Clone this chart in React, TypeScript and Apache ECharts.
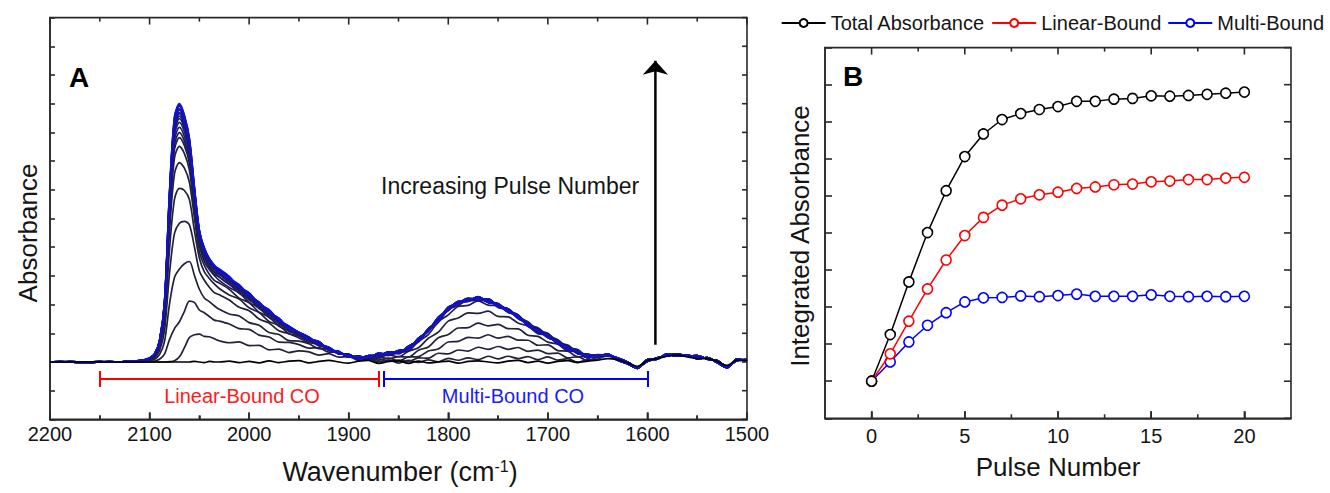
import { useEffect, useRef } from 'react';
import * as echarts from 'echarts';

// ---------------- Panel A : IR spectra ----------------
// wavenumber grid (cm-1) at which the spectra were read
const WAVENUMBERS = [
  2200, 2190, 2180, 2170, 2160, 2150, 2140, 2130, 2120,
  2115, 2110, 2105, 2100, 2095, 2090, 2085, 2080, 2075, 2070, 2065, 2060, 2055, 2050, 2045, 2040, 2035, 2030,
  2020, 2010, 2000, 1990, 1980, 1970, 1960, 1950, 1940, 1930, 1920, 1910, 1900, 1890, 1880, 1870, 1860, 1850,
  1840, 1830, 1820, 1810, 1800, 1790, 1780, 1770, 1760, 1750, 1740, 1730, 1720, 1710, 1700, 1690, 1680, 1670, 1660,
  1650, 1640, 1630, 1620, 1610, 1600, 1590, 1580, 1570, 1560, 1550, 1540, 1530, 1520, 1510, 1500,
];
// linear-bound band of the last pulse (absorbance units)
const LIN_FINAL = [
  0, 0, 0, 0, 0, 0, 0, 0, 0.02,
  0.03, 0.05, 0.08, 0.14, 0.28, 0.75, 2.1, 5.9, 8.55, 9.0, 8.6, 7.8, 6.1, 4.6, 3.95, 3.6, 3.38, 3.22,
  2.95, 2.66, 2.36, 2.05, 1.78, 1.5, 1.22, 1.0, 0.84, 0.66, 0.46, 0.32, 0.2, 0.1, 0.04, 0.01, 0, 0,
  0, 0, 0, 0, 0, 0, 0, 0, 0, 0, 0, 0, 0, 0, 0, 0, 0, 0, 0,
  0, 0, 0, 0, 0, 0, 0, 0, 0, 0, 0, 0, 0, 0, 0, 0,
];
// linear-bound band of the first pulse
const LIN_FIRST = [
  0, 0, 0, 0, 0, 0, 0, 0, 0,
  0, 0, 0, 0, 0, 0, 0, 0.01, 0.04, 0.18, 0.5, 0.85, 0.97, 0.95, 0.9, 0.86, 0.8, 0.76,
  0.7, 0.66, 0.6, 0.53, 0.46, 0.42, 0.38, 0.35, 0.32, 0.28, 0.24, 0.2, 0.15, 0.11, 0.07, 0.04, 0.02, 0,
  0, 0, 0, 0, 0, 0, 0, 0, 0, 0, 0, 0, 0, 0, 0, 0, 0, 0, 0,
  0, 0, 0, 0, 0, 0, 0, 0, 0, 0, 0, 0, 0, 0, 0, 0,
];
// multi-bound band of the last pulse
const MUL_FINAL = [
  0, 0, 0, 0, 0, 0, 0, 0, 0,
  0, 0, 0, 0, 0, 0, 0, 0, 0, 0, 0, 0, 0, 0, 0, 0, 0, 0,
  0, 0, 0, 0, 0, 0, 0, 0, 0, 0, 0, 0, 0.02, 0.06, 0.14, 0.24, 0.3, 0.36,
  0.5, 0.78, 1.12, 1.5, 1.86, 2.08, 2.18, 2.22, 2.12, 1.96, 1.78, 1.56, 1.3, 1.08, 0.88, 0.66, 0.5, 0.35, 0.2,
  0.12, 0.05, 0.02, 0, 0, 0, 0, 0, 0, 0, 0, 0, 0, 0, 0, 0,
];
// multi-bound band shape of the early pulses (peak = 1)
const MUL_FIRST = [
  0, 0, 0, 0, 0, 0, 0, 0, 0,
  0, 0, 0, 0, 0, 0, 0, 0, 0, 0, 0, 0, 0, 0, 0, 0, 0, 0,
  0, 0, 0, 0, 0, 0, 0, 0, 0, 0, 0, 0, 0, 0, 0, 0, 0, 0,
  0.03, 0.1, 0.22, 0.38, 0.53, 0.67, 0.78, 0.87, 0.94, 0.98, 1.0, 1.0, 0.96, 0.88, 0.77, 0.63, 0.5, 0.36, 0.23,
  0.13, 0.06, 0.02, 0, 0, 0, 0, 0, 0, 0, 0, 0, 0, 0, 0, 0,
];
const NOISE_EVEN = [
  0, 0.01, 0, -0.01, 0, 0.01, 0, 0, 0.01,
  0, 0, 0, 0, 0, 0, 0, 0, 0, 0, 0, 0, 0.02, -0.02, 0.03, 0, -0.02, 0.02,
  0.03, -0.04, 0.05, -0.02, 0.04, -0.05, 0.03, 0.02, -0.04, 0.05, -0.03, 0.04, -0.05, 0.03, -0.04, 0.05, -0.03, 0.04,
  -0.04, 0.05, -0.03, 0.06, -0.04, 0.03, -0.05, 0.05, -0.04, 0.06, -0.03, 0.05, -0.05, 0.04, -0.03, 0.05, -0.06, 0.04, -0.05,
  0.12, 0.18, 0.12, 0.0, -0.18, 0.02, 0.15, 0.22, 0.28, 0.2, 0.22, 0.1, 0.05, -0.15, 0.05, 0.08,
];
const NOISE_ODD = [
  0, 0, 0.01, 0, -0.01, 0, 0.01, 0, 0,
  0, 0, 0, 0, 0, 0, 0, 0, 0, 0, 0, 0, -0.02, 0.02, -0.01, 0.02, 0.01, -0.02,
  -0.03, 0.04, -0.03, 0.05, -0.04, 0.03, -0.05, 0.04, 0.03, -0.04, 0.05, -0.03, 0.04, -0.05, 0.04, -0.03, 0.05, -0.04,
  0.05, -0.03, 0.04, -0.05, 0.05, -0.04, 0.03, -0.05, 0.06, -0.04, 0.05, -0.03, 0.04, -0.05, 0.06, -0.03, 0.04, -0.06, 0.05,
  0.08, 0.22, 0.05, -0.06, -0.22, 0.08, 0.1, 0.28, 0.2, 0.25, 0.12, 0.15, -0.02, -0.2, 0.1, 0.02,
];
// spectrum before the first pulse
const PULSE0 = [
  0, 0, 0, 0, 0, 0, 0, 0, 0,
  0, 0, 0, 0, 0, 0, 0, 0, 0, 0, 0, 0, 0.02, 0, -0.02, 0.02, 0, 0,
  0.03, -0.02, 0.02, -0.03, 0.04, -0.02, 0.03, 0.05, -0.03, 0.02, 0.06, 0, -0.04, 0.03, 0.06, -0.05, 0.02, 0.04,
  -0.05, 0.03, -0.03, 0, 0.03, -0.04, 0.02, 0.04, 0, -0.03, 0.03, 0.06, -0.02, 0.03, -0.04, 0.02, 0.05, -0.02, 0.03,
  0.06, 0.12, 0.08, -0.03, -0.15, 0.05, 0.12, 0.2, 0.24, 0.18, 0.12, 0.12, 0.02, -0.12, 0.06, 0.05,
];
// per-pulse weights (pulses 1..20) of the band shapes above
const LIN_W_FINAL = [0, 0.13, 0.34, 0.52, 0.66, 0.765, 0.83, 0.865, 0.885, 0.905, 0.925, 0.94, 0.95, 0.96, 0.965, 0.975, 0.98, 0.99, 0.995, 1];
const LIN_W_FIRST = [1, 1.3, 1.0, 0.85, 0.6, 0.35, 0.25, 0.2, 0.17, 0.15, 0.13, 0.11, 0.09, 0.08, 0.06, 0.05, 0.04, 0.03, 0.01, 0];
const MUL_W_FINAL = [0, 0.08, 0.22, 0.4, 0.62, 0.82, 0.9, 0.95, 0.97, 0.98, 0.99, 0.98, 0.99, 0.99, 1, 0.99, 0.99, 1, 0.99, 1];
const MUL_W_FIRST = [0.15, 0.33, 0.45, 0.48, 0.42, 0.3, 0.2, 0.12, 0.08, 0.06, 0.04, 0.04, 0.03, 0.02, 0.02, 0.01, 0.01, 0, 0, 0];

const A_X_MAJOR = [1500, 1600, 1700, 1800, 1900, 2000, 2100, 2200];
const A_X_MINOR = [1550, 1650, 1750, 1850, 1950, 2050, 2150];
const A_Y_TICKS = [-2, -1, 0, 1, 2, 3, 4, 5, 6, 7, 8, 9, 10, 11, 12];

const LINEAR_RANGE = [2150, 1870];
const MULTI_RANGE = [1865, 1600];
const ARROW_WAVENUMBER = 1592;
const ARROW_FROM = 0.6;
const ARROW_TO = 10.5;

// ---------------- Panel B : integrated absorbance ----------------
const PULSES = [0, 1, 2, 3, 4, 5, 6, 7, 8, 9, 10, 11, 12, 13, 14, 15, 16, 17, 18, 19, 20];
const TOTAL = [0, 1.26, 2.68, 4.01, 5.14, 6.06, 6.67, 7.06, 7.22, 7.33, 7.41, 7.55, 7.55, 7.61, 7.63, 7.7, 7.69, 7.71, 7.74, 7.77, 7.8];
const LINEAR = [0, 0.74, 1.62, 2.49, 3.27, 3.93, 4.42, 4.75, 4.92, 5.03, 5.1, 5.2, 5.24, 5.3, 5.32, 5.38, 5.4, 5.44, 5.44, 5.48, 5.5];
const MULTI = [0, 0.52, 1.06, 1.51, 1.85, 2.14, 2.25, 2.26, 2.3, 2.28, 2.31, 2.35, 2.29, 2.29, 2.29, 2.33, 2.29, 2.28, 2.29, 2.28, 2.29];
const B_X_MAJOR = [0, 5, 10, 15, 20];
const B_X_MINOR = [2.5, 7.5, 12.5, 17.5];
const B_Y_TICKS = [-1, 0, 1, 2, 3, 4, 5, 6, 7, 8, 9];

const FONT = '"Liberation Sans", Arial, sans-serif';
const AXIS_COLOR = '#2a2a2a';
const TEXT_COLOR = '#151515';

// plot frames (pixels)
const A_BOX = { left: 50, top: 17.6, width: 697, height: 401.8 };
const B_BOX = { left: 825, top: 47.6, width: 466, height: 370.7 };
const A_RANGE = { x: [1500, 2200], y: [-2, 12] };
const B_RANGE = { x: [-2.5, 22.5], y: [-1, 9] };

function spectrum(n: number) {
  return WAVENUMBERS.map((w, k) => {
    if (n === 0) return [w, PULSE0[k]];
    const i = n - 1;
    const noise = n % 2 === 0 ? NOISE_EVEN[k] : NOISE_ODD[k];
    const v =
      LIN_W_FINAL[i] * LIN_FINAL[k] +
      LIN_W_FIRST[i] * LIN_FIRST[k] +
      MUL_W_FINAL[i] * MUL_FINAL[k] +
      MUL_W_FIRST[i] * MUL_FIRST[k] +
      noise;
    return [w, v];
  });
}

function specColor(n: number): string {
  if (n === 0) return '#000000';
  const t = Math.pow(n / 20, 2);
  const r = Math.round(34 + (16 - 34) * t);
  const b = Math.round(54 + (212 - 54) * t);
  return `rgb(${r},${r},${b})`;
}

const axisLineStyle = { color: AXIS_COLOR, width: 1.6 };
const tickLine = { color: AXIS_COLOR, width: 1.6 };

// Frame ticks on bottom, top and right edges, drawn by a custom series through the axes' scales.
// Each item: [x value, y value, pixel dx, pixel dy]
function frameTicks(
  xAxisIndex: number, yAxisIndex: number,
  range: { x: number[]; y: number[] },
  xMajor: number[], xMinor: number[], yTicks: number[],
  rightX: number, rightDir: number, majorLen: number, minorLen: number, sideLen: number,
) {
  const items: number[][] = [];
  xMajor.forEach((v) => {
    items.push([v, range.y[0], 0, -majorLen]);
    items.push([v, range.y[1], 0, majorLen]);
  });
  xMinor.forEach((v) => {
    items.push([v, range.y[0], 0, -minorLen]);
    items.push([v, range.y[1], 0, minorLen]);
  });
  yTicks.forEach((v) => {
    items.push([rightX, v, rightDir * sideLen, 0]);
  });
  return {
    type: 'custom',
    xAxisIndex,
    yAxisIndex,
    silent: true,
    clip: false,
    data: items,
    renderItem: (_params: any, api: any) => {
      const x = api.value(0);
      const y = api.value(1);
      const dx = api.value(2);
      const dy = api.value(3);
      const p = api.coord([x, y]);
      return {
        type: 'line',
        shape: { x1: p[0], y1: p[1], x2: p[0] + dx, y2: p[1] + dy },
        style: { stroke: AXIS_COLOR, lineWidth: 1.6, fill: null },
      };
    },
    z: 10,
  };
}

export default function App() {
  const ref = useRef<HTMLDivElement>(null);

  useEffect(() => {
    const chart = echarts.init(ref.current as HTMLDivElement, null, { renderer: 'svg' });

    const spectraSeries: any[] = [];
    for (let n = 1; n <= 20; n++) {
      spectraSeries.push({
        type: 'line', xAxisIndex: 0, yAxisIndex: 0, data: spectrum(n),
        showSymbol: false, symbol: 'none', smooth: 0.3, silent: true,
        lineStyle: { color: specColor(n), width: 1.7 }, z: 2,
      });
    }
    spectraSeries.push({
      type: 'line', xAxisIndex: 0, yAxisIndex: 0, data: spectrum(0),
      showSymbol: false, symbol: 'none', smooth: 0.3, silent: true,
      lineStyle: { color: specColor(0), width: 1.7 }, z: 3,
    });

    const rangeY = -0.59;
    const capTop = -0.31;
    const capBottom = -0.87;
    const rangeSeries = (range: number[], color: string) => ({
      type: 'line', xAxisIndex: 0, yAxisIndex: 0,
      data: [[range[0], rangeY], [range[1], rangeY]],
      showSymbol: false, symbol: 'none', silent: true,
      lineStyle: { color, width: 2 },
      markLine: {
        silent: true, symbol: 'none', label: { show: false },
        lineStyle: { color, width: 2, type: 'solid' },
        data: [
          [{ coord: [range[0], capTop] }, { coord: [range[0], capBottom] }],
          [{ coord: [range[1], capTop] }, { coord: [range[1], capBottom] }],
        ],
      },
      z: 4,
    });

    const bSeries = (name: string, data: number[], color: string, z: number) => ({
      name, type: 'line', xAxisIndex: 1, yAxisIndex: 1,
      data: PULSES.map((p, i) => [p, data[i]]),
      symbol: 'circle', symbolSize: 10, showSymbol: true,
      lineStyle: { color, width: 1.5 },
      itemStyle: { color: '#ffffff', borderColor: color, borderWidth: 1.6 },
      z,
    });

    const labelFmt = (v: number) => String(v);

    const option: any = {
      animation: false,
      backgroundColor: '#ffffff',
      textStyle: { fontFamily: FONT },
      grid: [
        { ...A_BOX, show: true, borderColor: AXIS_COLOR, borderWidth: 1.6, backgroundColor: 'transparent' },
        { ...B_BOX, show: true, borderColor: AXIS_COLOR, borderWidth: 1.6, backgroundColor: 'transparent' },
      ],
      xAxis: [
        {
          gridIndex: 0, type: 'value', position: 'bottom', min: A_RANGE.x[0], max: A_RANGE.x[1], interval: 100, inverse: true,
          axisLine: { show: true, onZero: false, lineStyle: axisLineStyle },
          axisTick: { show: true, inside: true, length: 7, lineStyle: tickLine },
          minorTick: { show: true, splitNumber: 2, length: 4, lineStyle: tickLine },
          axisLabel: { show: true, margin: 5, fontSize: 20, color: TEXT_COLOR, fontFamily: FONT, formatter: labelFmt },
          splitLine: { show: false }, minorSplitLine: { show: false },
        },
        {
          gridIndex: 1, type: 'value', position: 'bottom', min: B_RANGE.x[0], max: B_RANGE.x[1],
          axisLine: { show: true, onZero: false, lineStyle: axisLineStyle },
          axisTick: { show: true, inside: true, length: 7, lineStyle: tickLine, customValues: B_X_MAJOR },
          axisLabel: { show: true, margin: 8, fontSize: 20, color: TEXT_COLOR, fontFamily: FONT, customValues: B_X_MAJOR, formatter: labelFmt },
          splitLine: { show: false },
        },
      ],
      yAxis: [
        {
          gridIndex: 0, type: 'value', position: 'left', min: A_RANGE.y[0], max: A_RANGE.y[1], interval: 1,
          axisLine: { show: true, onZero: false, lineStyle: axisLineStyle },
          axisTick: { show: true, inside: true, length: 5, lineStyle: tickLine },
          axisLabel: { show: false }, splitLine: { show: false },
        },
        {
          gridIndex: 1, type: 'value', position: 'left', min: B_RANGE.y[0], max: B_RANGE.y[1], interval: 1,
          axisLine: { show: true, onZero: false, lineStyle: axisLineStyle },
          axisTick: { show: true, inside: true, length: 7, lineStyle: tickLine },
          axisLabel: { show: false }, splitLine: { show: false },
        },
      ],
      legend: {
        data: ['Total Absorbance', 'Linear-Bound', 'Multi-Bound'],
        right: 1,
        top: 8,
        itemWidth: 44,
        itemHeight: 10,
        itemGap: 6,
        textStyle: { fontSize: 20, color: TEXT_COLOR, fontFamily: FONT },
      },
      series: [
        ...spectraSeries,
        rangeSeries(LINEAR_RANGE, '#ff0000'),
        rangeSeries(MULTI_RANGE, '#0000ff'),
        {
          type: 'line', xAxisIndex: 0, yAxisIndex: 0, silent: true,
          data: [
            { value: [ARROW_WAVENUMBER, ARROW_FROM], symbol: 'none' },
            { value: [ARROW_WAVENUMBER, ARROW_TO], symbol: 'arrow', symbolSize: [19, 14] },
          ],
          showSymbol: true,
          lineStyle: { color: '#000', width: 2.5 },
          itemStyle: { color: '#000' },
          z: 5,
        },
        frameTicks(0, 0, A_RANGE, A_X_MAJOR, A_X_MINOR, A_Y_TICKS, A_RANGE.x[0], -1, 7, 4, 5),
        frameTicks(1, 1, B_RANGE, B_X_MAJOR, B_X_MINOR, B_Y_TICKS, B_RANGE.x[1], -1, 7, 4, 7),
        bSeries('Multi-Bound', MULTI, '#0000ff', 3),
        bSeries('Linear-Bound', LINEAR, '#ff0000', 4),
        bSeries('Total Absorbance', TOTAL, '#000000', 5),
      ],
      graphic: [
        { type: 'text', x: 69, y: 77, style: { text: 'A', fontSize: 28, fontWeight: 'bold', fontFamily: FONT, fill: '#000', align: 'left', verticalAlign: 'middle', textAlign: 'left', textVerticalAlign: 'middle' } },
        { type: 'text', x: 843, y: 76, style: { text: 'B', fontSize: 28, fontWeight: 'bold', fontFamily: FONT, fill: '#000', align: 'left', verticalAlign: 'middle', textAlign: 'left', textVerticalAlign: 'middle' } },
        { type: 'text', x: 381, y: 186, style: { text: 'Increasing Pulse Number', fontSize: 23, fontFamily: FONT, fill: TEXT_COLOR, align: 'left', verticalAlign: 'middle', textAlign: 'left', textVerticalAlign: 'middle' } },
        { type: 'text', x: 242, y: 396, style: { text: 'Linear-Bound CO', fontSize: 20, fontFamily: FONT, fill: '#ff1a1a', align: 'center', verticalAlign: 'middle', textAlign: 'center', textVerticalAlign: 'middle' } },
        { type: 'text', x: 513, y: 396, style: { text: 'Multi-Bound CO', fontSize: 20, fontFamily: FONT, fill: '#1a1aff', align: 'center', verticalAlign: 'middle', textAlign: 'center', textVerticalAlign: 'middle' } },
        { type: 'text', x: 28, y: 233, rotation: Math.PI / 2, style: { text: 'Absorbance', fontSize: 26, fontFamily: FONT, fill: TEXT_COLOR, align: 'center', verticalAlign: 'middle', textAlign: 'center', textVerticalAlign: 'middle' } },
        { type: 'text', x: 800, y: 236, rotation: Math.PI / 2, style: { text: 'Integrated Absorbance', fontSize: 26, fontFamily: FONT, fill: TEXT_COLOR, align: 'center', verticalAlign: 'middle', textAlign: 'center', textVerticalAlign: 'middle' } },
        {
          type: 'text', x: 400, y: 472,
          style: {
            text: 'Wavenumber (cm{sup|-1})', fontSize: 27, fontFamily: FONT, fill: TEXT_COLOR,
            align: 'center', verticalAlign: 'middle', textAlign: 'center', textVerticalAlign: 'middle',
            rich: { sup: { fontSize: 16, fontFamily: FONT, fill: TEXT_COLOR, verticalAlign: 'top', lineHeight: 27 } },
          },
        },
        { type: 'text', x: 1058, y: 467, style: { text: 'Pulse Number', fontSize: 26, fontFamily: FONT, fill: TEXT_COLOR, align: 'center', verticalAlign: 'middle', textAlign: 'center', textVerticalAlign: 'middle' } },
      ],
    };

    chart.setOption(option);
    return () => chart.dispose();
  }, []);

  return (
    <div
      ref={ref}
      style={{ position: 'absolute', left: 0, top: 0, width: 1330, height: 493, background: '#fff' }}
    />
  );
}
